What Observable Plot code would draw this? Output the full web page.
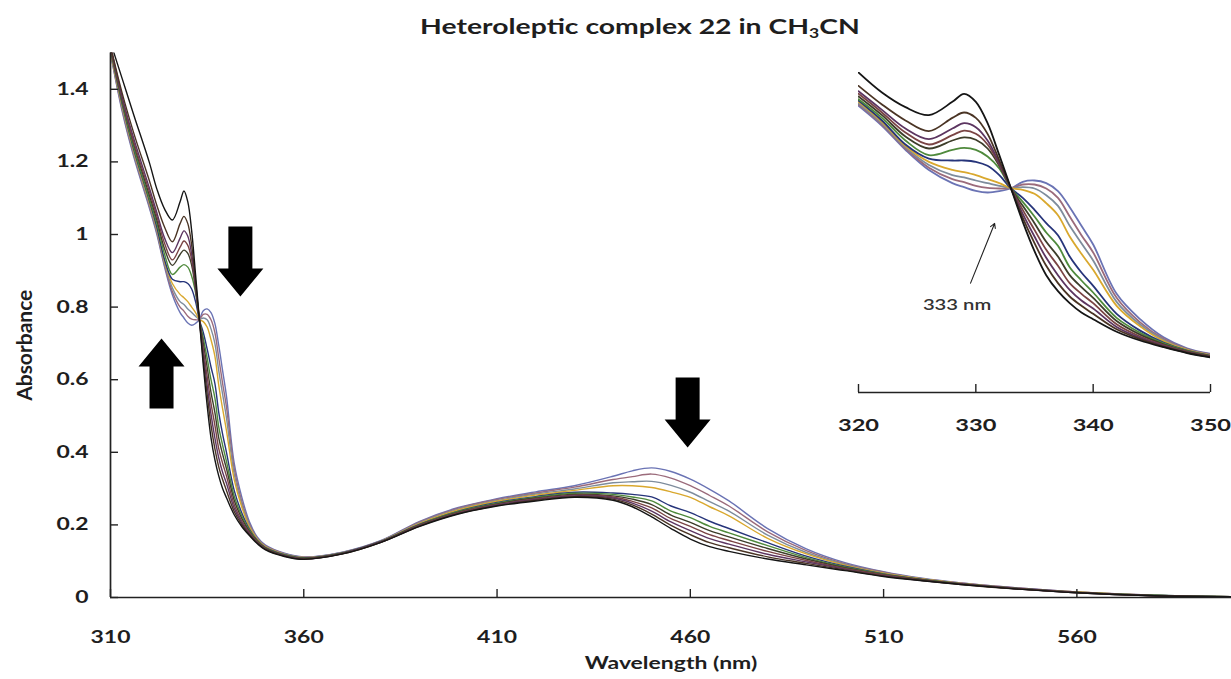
<!DOCTYPE html>
<html><head><meta charset="utf-8">
<script src="https://cdn.jsdelivr.net/npm/d3@7"></script>
<script src="https://cdn.jsdelivr.net/npm/@observablehq/plot@0.6"></script>
<style>
body{margin:0;background:#fff;}
#wrap{position:relative;width:1231px;height:679px;overflow:hidden;font-family:Lato,"Open Sans",sans-serif;}
#title{position:absolute;top:13px;left:640px;transform:translateX(-50%) scaleX(1.35);white-space:nowrap;font-size:21px;font-weight:bold;color:#1e1e1e;}
#title sub{font-size:13px;vertical-align:-4px;line-height:0;}
#main{position:absolute;left:0;top:0;}
#inset{position:absolute;left:840px;top:60px;}
</style></head><body>
<div id="wrap"><div id="main"></div><div id="inset"></div><div id="title">Heteroleptic complex 22 in CH<sub>3</sub>CN</div></div>
<script>
// ---- data (wavelength in nm, absorbance) ----
const wavelengths = [310,313,316,320,322,324,326,328,329,330,331,332,333,334,335,336,337,338,339,340,342,344,346,348,350,355,360,370,380,390,400,410,420,430,440,445,450,455,460,465,470,480,490,500,510,520,530,545,560,580,600];

const s0  = [1.53,1.43,1.33,1.20,1.125,1.07,1.04,1.09,1.12,1.09,1.01,0.89,0.765,0.64,0.53,0.44,0.38,0.335,0.30,0.275,0.228,0.195,0.17,0.148,0.132,0.113,0.105,0.12,0.152,0.196,0.23,0.252,0.266,0.276,0.268,0.25,0.222,0.19,0.161,0.14,0.127,0.106,0.09,0.074,0.058,0.046,0.036,0.023,0.013,0.005,0.002];
const s1  = [1.52,1.39,1.28,1.15,1.08,1.02,0.98,1.03,1.05,1.03,0.97,0.87,0.765,0.655,0.56,0.475,0.41,0.36,0.325,0.295,0.237,0.2,0.172,0.15,0.133,0.114,0.106,0.12,0.152,0.197,0.231,0.253,0.268,0.278,0.271,0.255,0.23,0.199,0.173,0.151,0.137,0.112,0.094,0.076,0.059,0.047,0.036,0.023,0.013,0.005,0.002];
const s2  = [1.52,1.38,1.265,1.13,1.06,0.99,0.95,0.99,1.01,0.995,0.945,0.86,0.765,0.67,0.585,0.505,0.44,0.385,0.345,0.315,0.246,0.205,0.175,0.151,0.134,0.115,0.106,0.121,0.153,0.198,0.232,0.255,0.27,0.28,0.274,0.26,0.238,0.208,0.184,0.162,0.147,0.119,0.098,0.078,0.06,0.047,0.037,0.023,0.013,0.005,0.002];
const s3  = [1.515,1.375,1.255,1.12,1.05,0.975,0.93,0.965,0.982,0.97,0.93,0.855,0.765,0.685,0.61,0.535,0.475,0.41,0.37,0.335,0.256,0.21,0.178,0.153,0.135,0.115,0.107,0.121,0.153,0.199,0.234,0.256,0.272,0.282,0.277,0.265,0.247,0.217,0.196,0.173,0.157,0.127,0.102,0.08,0.062,0.048,0.037,0.024,0.014,0.005,0.002];
const s4  = [1.515,1.37,1.25,1.11,1.04,0.96,0.915,0.945,0.957,0.948,0.915,0.85,0.765,0.70,0.635,0.565,0.51,0.44,0.395,0.355,0.268,0.217,0.181,0.154,0.136,0.116,0.108,0.122,0.154,0.2,0.235,0.258,0.274,0.284,0.28,0.271,0.256,0.227,0.207,0.184,0.167,0.135,0.106,0.082,0.063,0.049,0.037,0.024,0.014,0.005,0.002];
const s5  = [1.51,1.365,1.24,1.10,1.03,0.945,0.89,0.91,0.917,0.91,0.885,0.84,0.765,0.715,0.66,0.60,0.55,0.47,0.42,0.375,0.28,0.224,0.184,0.156,0.137,0.117,0.108,0.122,0.154,0.201,0.237,0.26,0.276,0.287,0.284,0.277,0.266,0.238,0.22,0.196,0.178,0.143,0.11,0.084,0.064,0.049,0.038,0.024,0.014,0.006,0.002];
const s6  = [1.51,1.36,1.235,1.095,1.02,0.93,0.877,0.87,0.87,0.865,0.85,0.815,0.765,0.73,0.685,0.635,0.59,0.51,0.45,0.40,0.295,0.232,0.187,0.157,0.138,0.118,0.109,0.123,0.155,0.202,0.238,0.262,0.278,0.29,0.288,0.284,0.277,0.252,0.234,0.21,0.19,0.151,0.114,0.086,0.065,0.05,0.038,0.025,0.014,0.006,0.002];
const s7  = [1.505,1.355,1.23,1.09,1.015,0.925,0.865,0.835,0.826,0.815,0.80,0.785,0.766,0.76,0.745,0.71,0.665,0.585,0.52,0.46,0.325,0.248,0.193,0.16,0.14,0.119,0.11,0.123,0.155,0.204,0.241,0.265,0.282,0.295,0.308,0.308,0.303,0.291,0.276,0.25,0.225,0.163,0.12,0.089,0.067,0.051,0.039,0.025,0.015,0.006,0.002];
const s8  = [1.505,1.35,1.225,1.085,1.01,0.92,0.853,0.815,0.807,0.795,0.785,0.775,0.766,0.77,0.765,0.74,0.70,0.625,0.56,0.495,0.34,0.255,0.197,0.161,0.141,0.12,0.11,0.124,0.156,0.206,0.243,0.267,0.285,0.299,0.316,0.319,0.32,0.309,0.29,0.264,0.238,0.172,0.124,0.091,0.068,0.051,0.039,0.025,0.015,0.006,0.002];
const s9  = [1.50,1.345,1.22,1.08,1.005,0.915,0.843,0.80,0.789,0.775,0.767,0.765,0.766,0.78,0.78,0.765,0.73,0.66,0.59,0.525,0.355,0.263,0.201,0.163,0.143,0.121,0.111,0.124,0.156,0.208,0.246,0.27,0.288,0.304,0.325,0.333,0.34,0.329,0.308,0.281,0.252,0.181,0.129,0.093,0.07,0.052,0.04,0.026,0.015,0.006,0.002];
const s10 = [1.50,1.34,1.215,1.075,1.0,0.91,0.834,0.785,0.77,0.756,0.75,0.755,0.766,0.79,0.795,0.785,0.755,0.695,0.625,0.555,0.37,0.275,0.207,0.166,0.145,0.122,0.112,0.125,0.157,0.21,0.248,0.272,0.291,0.308,0.334,0.349,0.357,0.347,0.326,0.298,0.266,0.19,0.134,0.096,0.071,0.053,0.04,0.026,0.015,0.006,0.002];

const seriesNames  = ["Spectrum 1","Spectrum 2","Spectrum 3","Spectrum 4","Spectrum 5","Spectrum 6","Spectrum 7","Spectrum 8","Spectrum 9","Spectrum 10","Spectrum 11"];
const seriesColors = ["#151515","#4a3424","#5c3560","#7a4444","#3d3d2a","#4f8a3c","#26347a","#d9a82e","#7e8c9c","#9b6b7b","#6a73b4"];
const seriesValues = [s0,s1,s2,s3,s4,s5,s6,s7,s8,s9,s10];

const yTicks = [0,0.2,0.4,0.6,0.8,1,1.2,1.4];
const xTicks = [310,360,410,460,510,560];
const insetTicks = [320,330,340,350];
const xLabel = "Wavelength (nm)";
const yLabel = "Absorbance";

// annotations (data coordinates)
const blockArrows = [
  {wl: 343.6, abs: 1.022, dir: 180},
  {wl: 323.2, abs: 0.521, dir: 0},
  {wl: 459.3, abs: 0.606, dir: 180}
];
const insetNote = [{x1: 329.55, y1: 0.41, x2: 331.6, y2: 0.634, lx: 328.4, ly: 0.326, label: "333 nm"}];

// ---- build table ----
const rows = [];
for (let k = seriesValues.length - 1; k >= 0; k--) {
  seriesValues[k].forEach((v, i) => rows.push({wl: wavelengths[i], abs: v, series: seriesNames[k]}));
}

const blockArrowShape = {
  draw(ctx, l) {
    const sw = 12, hw = 23, hl = 28;
    ctx.moveTo(-sw, 0);
    ctx.lineTo(-sw, -(l - hl));
    ctx.lineTo(-hw, -(l - hl));
    ctx.lineTo(0, -l);
    ctx.lineTo(hw, -(l - hl));
    ctx.lineTo(sw, -(l - hl));
    ctx.lineTo(sw, 0);
    ctx.closePath();
  }
};

// widen horizontal text like the (horizontally stretched) original
function stretchText(svg, sx) {
  svg.querySelectorAll("text").forEach(t => {
    const tr = t.getAttribute("transform");
    if (tr && !/rotate/.test(tr)) t.setAttribute("transform", tr + ` scale(${sx},1)`);
  });
}

const font = 'Lato, "Open Sans", sans-serif';
const W = 1231, H = 679, ML = 110, MR = 0, MT = 52.5, MB = 82;

const main = Plot.plot({
  width: W, height: H,
  marginLeft: ML, marginRight: MR, marginTop: MT, marginBottom: MB,
  style: {fontFamily: font, fontSize: "17px", fontWeight: "bold", color: "#1e1e1e", background: "transparent"},
  x: {domain: [310, 600]},
  y: {domain: [0, 1.5]},
  color: {domain: seriesNames, range: seriesColors},
  marks: [
    Plot.line(rows, {x: "wl", y: "abs", z: "series", stroke: "series", strokeWidth: 1.4, curve: "catmull-rom", clip: true}),
    Plot.ruleY([0], {stroke: "#222", strokeWidth: 1.7}),
    Plot.ruleX([310], {stroke: "#222", strokeWidth: 1.7}),
    Plot.tickY(yTicks, {y: d => d, insetRight: (W - ML - MR) - 8, stroke: "#222", strokeWidth: 1.4}),
    Plot.tickX(xTicks, {x: d => d, insetTop: (H - MT - MB) - 8, stroke: "#222", strokeWidth: 1.4}),
    Plot.axisY(yTicks, {tickSize: 0, tickPadding: 22, tickFormat: d => String(d), label: null, fontSize: 17}),
    Plot.axisX(xTicks, {tickSize: 0, tickPadding: 33, label: null, fontSize: 17}),
    Plot.text([xLabel], {text: d => d, frameAnchor: "bottom", lineAnchor: "middle", textAnchor: "middle", dy: 66, fontSize: 17, fontWeight: "bold"}),
    Plot.text([yLabel], {text: d => d, frameAnchor: "left", textAnchor: "middle", lineAnchor: "middle", rotate: -90, dx: -85, dy: 20, fontSize: 21, fontWeight: "bold"}),
    Plot.vector(blockArrows, {x: "wl", y: "abs", rotate: "dir", length: 70, anchor: "start", shape: blockArrowShape, fill: "black", stroke: "none"})
  ]
});
stretchText(main, 1.35);
document.getElementById("main").append(main);

const IW = 380, IH = 390, IML = 18, IMR = 10, IMT = 12, IMB = 58;
const insetRows = rows.filter(d => d.wl >= 320 && d.wl <= 350);
const inset = Plot.plot({
  width: IW, height: IH,
  marginLeft: IML, marginRight: IMR, marginTop: IMT, marginBottom: IMB,
  style: {fontFamily: font, fontSize: "17px", fontWeight: "bold", color: "#1e1e1e", background: "transparent", overflow: "visible"},
  x: {domain: [320, 350]},
  y: {domain: [0, 1.2], axis: null},
  color: {domain: seriesNames, range: seriesColors},
  marks: [
    Plot.line(insetRows, {x: "wl", y: "abs", z: "series", stroke: "series", strokeWidth: 1.8, curve: "catmull-rom", clip: true}),
    Plot.ruleY([0], {stroke: "#222", strokeWidth: 1.7}),
    Plot.tickX(insetTicks, {x: d => d, insetTop: (IH - IMT - IMB) - 8, stroke: "#222", strokeWidth: 1.4}),
    Plot.axisX(insetTicks, {tickSize: 0, tickPadding: 26, label: null, fontSize: 17.5}),
    Plot.arrow(insetNote, {x1: "x1", y1: "y1", x2: "x2", y2: "y2", headLength: 7, strokeWidth: 1.1, stroke: "#222"}),
    Plot.text(insetNote, {x: "lx", y: "ly", text: "label", fontSize: 15, fontWeight: "600", fill: "#333"})
  ]
});
stretchText(inset, 1.35);
document.getElementById("inset").append(inset);
</script>
</body></html>
